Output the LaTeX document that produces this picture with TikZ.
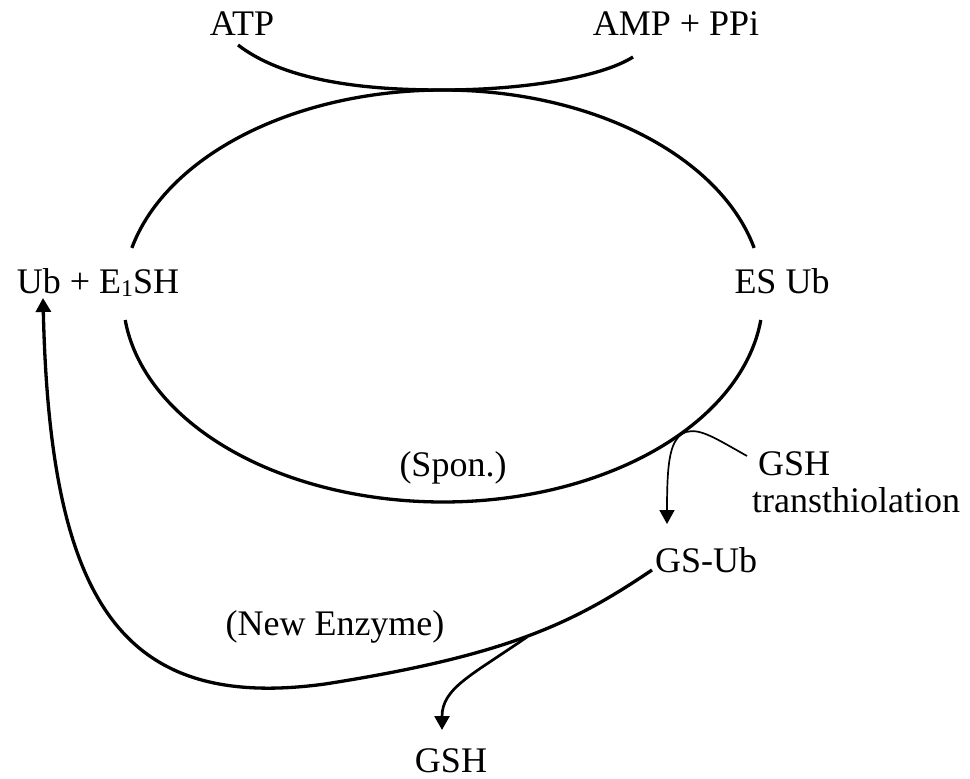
\documentclass[tikz,border=0pt]{standalone}
\usepackage{fontspec}
\setmainfont{Liberation Serif}
\usetikzlibrary{arrows.meta}
\newcommand{\lowone}{\raisebox{-3pt}{\fontsize{24}{24}\selectfont 1}}
\begin{document}
\begin{tikzpicture}[x=1pt,y=-1pt,
  lbl/.style={inner sep=0pt, font=\fontsize{36}{41}\selectfont},
  heavy/.style={line width=3.3pt},
  medium/.style={line width=2.7pt},
  light/.style={line width=1.7pt},
  tip/.style={-{Triangle[width=15pt,length=14pt]}}]
\useasboundingbox (0,0) rectangle (970,779);
% labels
\node[lbl,anchor=base] (atp) at (242,35) {ATP};
\node[lbl,anchor=base] (amp) at (676,35) {AMP + PPi};
\node[lbl,anchor=base] (ub) at (98,293) {Ub + E\lowone SH};
\node[lbl,anchor=base] (es) at (782,293) {ES Ub};
\node[lbl,anchor=base] (spon) at (453,476) {(Spon.)};
\node[lbl,anchor=base] (newenz) at (335,635) {(New Enzyme)};
\node[lbl,anchor=base west] (gsub) at (655,572) {GS-Ub};
\node[lbl,anchor=base west] (gsh1) at (758,475) {GSH};
\node[lbl,anchor=base west] (trans) at (752,512) {transthiolation};
\node[lbl,anchor=base] (gsh2) at (451,772) {GSH};
% coordinates
\coordinate (atpend) at (238,45);
\coordinate (ampend) at (633,57);
\coordinate (touch) at (443,90);
\coordinate (gsstart) at (652,570);
\coordinate (bend) at (325,684);
\coordinate (ubtip) at (43,298);
\coordinate (branch) at (527,637);
\coordinate (gshtip) at (442,730);
\coordinate (gsh1start) at (747,456);
\coordinate (meet) at (686,432);
\coordinate (gsubtip) at (667,524);
% ATP -> AMP + PPi
\draw[heavy] (atpend) .. controls (290,85) and (380,90) .. (touch)
  .. controls (520,90) and (600,78) .. (ampend);
% cycle: upper and lower arcs between Ub + E1SH and ES Ub
\draw[heavy] plot[smooth, domain=193.5:346.5, samples=80]
  ({443+320*cos(\x)},{296+206*sin(\x)});
\draw[heavy] plot[smooth, domain=173.3:6.7, samples=80]
  ({443+320*cos(\x)},{296+206*sin(\x)});
% GS-Ub -> Ub + E1SH (New Enzyme)
\draw[heavy,tip] (gsstart) .. controls (575,622) and (510,655) .. (bend)
  .. controls (120,712) and (50,600) .. (ubtip);
% branch releasing GSH
\draw[medium,tip] (branch) .. controls (472,675) and (442,688) .. (gshtip);
% GSH transthiolation
\draw[light,tip] (gsh1start) .. controls (715,438) and (700,428) .. (meet)
  .. controls (670,438) and (667,460) .. (gsubtip);
\end{tikzpicture}
\end{document}
